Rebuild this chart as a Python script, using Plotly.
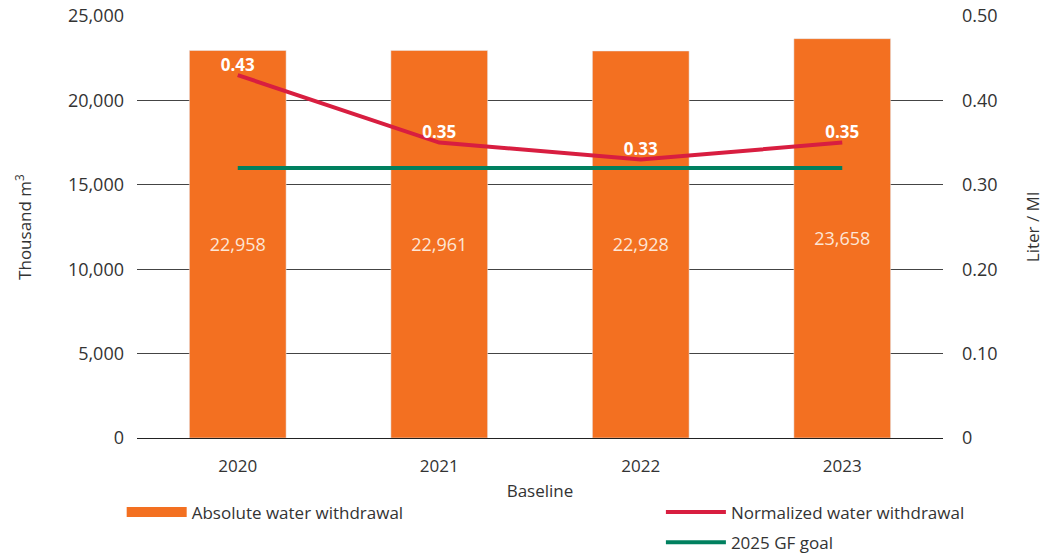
import plotly.graph_objects as go

years = ["2020", "2021", "2022", "2023"]
absolute = [22958, 22961, 22928, 23658]
normalized = [0.43, 0.35, 0.33, 0.35]
goal = [0.32, 0.32, 0.32, 0.32]

y2_ticks = [0, 0.1, 0.2, 0.3, 0.4, 0.5]
y2_labels = ["0", "0.10", "0.20", "0.30", "0.40", "0.50"]

FONT = "Open Sans"
ORANGE = "#F37021"
RED = "#D81E40"
GREEN = "#00805F"

fig = go.Figure()

fig.add_trace(go.Bar(
    x=years, y=absolute,
    name="Absolute water withdrawal",
    marker_color=ORANGE,
    text=[f"{v:,}" for v in absolute],
    textposition="inside", insidetextanchor="middle",
    textfont=dict(color="#FDE6D6", size=18, family=FONT),
    showlegend=False,
))

# legend-only entry so the swatch is a wide block like the original
fig.add_trace(go.Scatter(
    x=[None], y=[None], mode="lines",
    name="Absolute water withdrawal",
    line=dict(color=ORANGE, width=14),
    legend="legend", showlegend=True,
))

fig.add_trace(go.Scatter(
    x=years, y=normalized, yaxis="y2",
    name="Normalized water withdrawal",
    mode="lines+text",
    line=dict(color=RED, width=4),
    text=[f"<b>{v:.2f}</b>" for v in normalized],
    textposition="top center",
    textfont=dict(color="white", size=17, family=FONT),
    legend="legend2", legendgroup="a", showlegend=True,
))

fig.add_trace(go.Scatter(
    x=years, y=goal, yaxis="y2",
    name="2025 GF goal",
    mode="lines",
    line=dict(color=GREEN, width=4),
    legend="legend2", legendgroup="b", showlegend=True,
))

# page body adds an 8px offset, so margins are shifted accordingly
fig.update_layout(
    width=1056, height=556,
    margin=dict(l=129, r=121, t=8, b=126, autoexpand=False),
    plot_bgcolor="white", paper_bgcolor="white",
    font=dict(family=FONT, size=17, color="#333"),
    showlegend=True,
    bargap=0.52,
    xaxis=dict(
        title=dict(text="Baseline", standoff=8, font=dict(size=17)),
        showline=True, linecolor="#222", linewidth=1,
        ticks="", tickfont=dict(size=17), ticklabelstandoff=13,
    ),
    yaxis=dict(
        title=dict(text="Thousand m<sup>3</sup>", standoff=31, font=dict(size=17)),
        range=[0, 25000], dtick=5000, tickformat=",",
        gridcolor="#444", gridwidth=1, zeroline=False,
        tickfont=dict(size=18), ticklabelstandoff=12,
        ticklabeloverflow="allow",
    ),
    yaxis2=dict(
        title=dict(text="Liter / Ml", standoff=30, font=dict(size=17)),
        overlaying="y", side="right",
        range=[0, 0.5], tickvals=y2_ticks, ticktext=y2_labels,
        showgrid=False, zeroline=False,
        tickfont=dict(size=18), ticklabelstandoff=18,
        ticklabeloverflow="allow",
    ),
    legend=dict(
        x=-0.019, y=-0.134, xanchor="left", yanchor="top",
        font=dict(size=17), itemwidth=60, bgcolor="rgba(0,0,0,0)",
    ),
    legend2=dict(
        x=0.65, y=-0.134, xanchor="left", yanchor="top",
        font=dict(size=17), itemwidth=60, bgcolor="rgba(0,0,0,0)",
        tracegroupgap=5,
    ),
)

fig.write_html("out.html")
